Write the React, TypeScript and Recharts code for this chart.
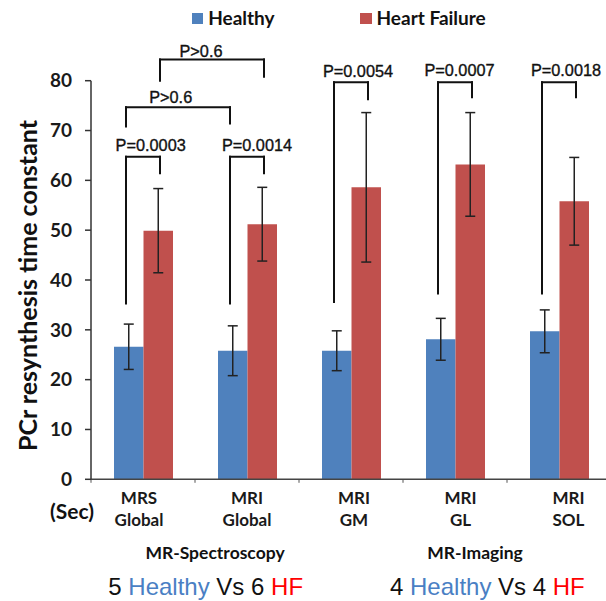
import React from 'react';
import { BarChart, Bar, XAxis, YAxis, ErrorBar, ReferenceLine, Legend } from 'recharts';

// ---------- data ----------
const categoryTop = ['MRS', 'MRI', 'MRI', 'MRI', 'MRI'];
const categoryBottom = ['Global', 'Global', 'GM', 'GL', 'SOL'];
const healthy = [26.6, 25.8, 25.8, 28.1, 29.7];
const healthyErr = [4.55, 5.0, 4.0, 4.2, 4.3];
const heartFailure = [49.9, 51.2, 58.6, 63.2, 55.8];
const heartFailureErr = [8.45, 7.4, 15.0, 10.4, 8.8];
const yTicks = [0, 10, 20, 30, 40, 50, 60, 70, 80];

// significance brackets (series: 'h' healthy, 'f' heart failure)
const bracketText = ['P=0.0003', 'P=0.0014', 'P>0.6', 'P>0.6', 'P=0.0054', 'P=0.0007', 'P=0.0018'];
const bracketFromCat = [0, 1, 0, 0, 2, 3, 4];
const bracketFromSeries = ['h', 'h', 'h', 'f', 'h', 'h', 'h'];
const bracketToCat = [0, 1, 1, 1, 2, 3, 4];
const bracketToSeries = ['f', 'f', 'h', 'f', 'f', 'f', 'f'];
const bracketTop = [64.75, 64.75, 74.66, 84.25, 79.7, 79.7, 79.7];
const bracketFromEnd = [35.3, 35.3, 70.8, 80.0, 35.6, 37.3, 37.3];
const bracketToEnd = [61.4, 61.4, 71.4, 80.8, 76.3, 76.7, 76.7];

// ---------- layout / style ----------
const BLUE = '#4f81bd';
const RED = '#c0504d';
const CHART_W = 620;
const CHART_H = 601;
const PLOT_LEFT = 91;
const PLOT_RIGHT = 611;
const PLOT_TOP = 80.7;
const PLOT_BOTTOM = 479.3;
const Y_AXIS_W = 50;
const X_AXIS_H = 60;
const BAR_SIZE = 29.5;
const BAND = (PLOT_RIGHT - PLOT_LEFT) / categoryTop.length;
const LEG = 17 / BAND;
const labelDx = [7.7, 10, -7.3, -11, 7, 4.5, 7];
const labelLift = [6, 6, 4.3, 2.7, 5, 6.6, 6.6];
const tickShift = [-4, 0, 3, 5.5, 9.5];
const legendLeft = [191.7, 360];

const data = categoryTop.map((c, i) => ({
  name: `${c} ${categoryBottom[i]}`,
  slot: i,
  healthy: healthy[i],
  hErr: healthyErr[i],
  hf: heartFailure[i],
  fErr: heartFailureErr[i],
}));

// slot axis: category centres sit at integer slots
const legX = (cat: number, s: string) => cat + (s === 'h' ? -LEG : LEG);

const BracketLabel = (props: any) => {
  const { viewBox, text, dx, lift } = props;
  if (!viewBox) return null;
  const cx = viewBox.x + (viewBox.width || 0) / 2 + dx;
  return (
    <text
      x={cx}
      y={viewBox.y - lift}
      textAnchor="middle"
      fontFamily="Liberation Sans, Arial, sans-serif"
      fontSize={16.3}
      fill="#111"
      stroke="#111"
      strokeWidth={0.35}
    >
      {text}
    </text>
  );
};

const XTick = (props: any) => {
  const { x, y, index } = props;
  const cx = x + (tickShift[index] || 0);
  return (
    <text
      x={cx}
      y={y}
      textAnchor="middle"
      fontFamily="Lato, sans-serif"
      fontWeight={700}
      fontSize={17}
      fill="#1a1a1a"
    >
      <tspan x={cx} dy={24.7}>{categoryTop[index]}</tspan>
      <tspan x={cx} dy={22}>{categoryBottom[index]}</tspan>
    </text>
  );
};

const LegendContent = (props: any) => {
  const payload = props.payload || [];
  return (
    <div style={{ position: 'relative', width: 606, height: 30 }}>
      {payload.map((p: any, i: number) => (
        <React.Fragment key={i}>
          <span
            style={{
              position: 'absolute',
              left: legendLeft[i],
              top: 12.5,
              width: 11.5,
              height: 11.5,
              background: p.color,
            }}
          />
          <span
            style={{
              position: 'absolute',
              left: legendLeft[i] + 16.5,
              top: 8.3,
              fontFamily: 'Lato, sans-serif',
              fontWeight: 700,
              fontSize: 19,
              lineHeight: '19px',
              color: '#111',
              whiteSpace: 'nowrap',
            }}
          >
            {p.value}
          </span>
        </React.Fragment>
      ))}
    </div>
  );
};

export default function App() {
  const brackets = bracketText.map((t, i) => {
    const x1 = legX(bracketFromCat[i], bracketFromSeries[i]);
    const x2 = legX(bracketToCat[i], bracketToSeries[i]);
    const common = {
      xAxisId: 'slot',
      stroke: '#111',
      strokeWidth: 2,
      ifOverflow: 'visible' as const,
      strokeLinecap: 'square' as const,
    };
    return [
      <ReferenceLine
        key={`l${i}`}
        {...common}
        segment={[{ x: x1, y: bracketFromEnd[i] }, { x: x1, y: bracketTop[i] }]}
      />,
      <ReferenceLine
        key={`t${i}`}
        {...common}
        segment={[{ x: x1, y: bracketTop[i] }, { x: x2, y: bracketTop[i] }]}
        label={<BracketLabel text={t} dx={labelDx[i]} lift={labelLift[i]} />}
      />,
      <ReferenceLine
        key={`r${i}`}
        {...common}
        segment={[{ x: x2, y: bracketToEnd[i] }, { x: x2, y: bracketTop[i] }]}
      />,
    ];
  });

  const boundaryTicks = categoryTop.map((_, i) => (
    <ReferenceLine
      key={`bt${i}`}
      xAxisId="slot"
      stroke="#555"
      strokeWidth={1}
      ifOverflow="visible"
      segment={[{ x: i - 0.5, y: 0 }, { x: i - 0.5, y: -0.7 }]}
    />
  ));

  return (
    <div
      style={{
        position: 'fixed',
        left: 0,
        top: 0,
        width: 606,
        height: 601,
        overflow: 'hidden',
        background: '#fff',
      }}
    >
      <BarChart
        width={CHART_W}
        height={CHART_H}
        data={data}
        barGap={0}
        barSize={BAR_SIZE}
        margin={{
          top: PLOT_TOP,
          right: CHART_W - PLOT_RIGHT,
          bottom: CHART_H - PLOT_BOTTOM - X_AXIS_H,
          left: PLOT_LEFT - Y_AXIS_W,
        }}
      >
        <XAxis
          dataKey="name"
          type="category"
          interval={0}
          height={X_AXIS_H}
          tickLine={false}
          tickSize={0}
          tickMargin={0}
          axisLine={{ stroke: '#444', strokeWidth: 1.5 }}
          tick={<XTick />}
        />
        <XAxis
          xAxisId="slot"
          dataKey="slot"
          type="number"
          domain={['dataMin', 'dataMax']}
          padding={{ left: BAND / 2, right: BAND / 2 }}
          allowDataOverflow
          hide
        />
        <YAxis
          domain={[0, 80]}
          ticks={yTicks}
          interval={0}
          width={Y_AXIS_W}
          tickSize={6}
          tickMargin={13}
          allowDataOverflow
          axisLine={{ stroke: '#333', strokeWidth: 1.5 }}
          tickLine={{ stroke: '#333', strokeWidth: 1.5 }}
          tick={{ fontFamily: 'Lato, sans-serif', fontWeight: 700, fontSize: 19, fill: '#1a1a1a' }}
        />
        <Legend
          layout="horizontal"
          verticalAlign="middle"
          align="center"
          wrapperStyle={{ position: 'absolute', left: 0, top: 0, width: 606, height: 30 }}
          content={<LegendContent />}
        />
        <Bar dataKey="healthy" name="Healthy" fill={BLUE} isAnimationActive={false}>
          <ErrorBar dataKey="hErr" width={5} stroke="#222" strokeWidth={1.5} isAnimationActive={false} />
        </Bar>
        <Bar dataKey="hf" name="Heart Failure" fill={RED} isAnimationActive={false}>
          <ErrorBar dataKey="fErr" width={5} stroke="#222" strokeWidth={1.5} isAnimationActive={false} />
        </Bar>
        {boundaryTicks}
        {brackets}
      </BarChart>
      <svg
        width={606}
        height={601}
        style={{ position: 'absolute', left: 0, top: 0, pointerEvents: 'none' }}
      >
        <text
          transform="translate(26.7,285.5) rotate(-90)"
          textAnchor="middle"
          dominantBaseline="central"
          fontFamily="Lato, sans-serif"
          fontWeight={700}
          fontSize={25}
          fill="#111"
        >
          PCr resynthesis time constant
        </text>
        <text x={72} y={519} textAnchor="middle" fontFamily="Lato, sans-serif" fontWeight={700} fontSize={21} fill="#111">
          (Sec)
        </text>
        <text x={215} y={558.5} textAnchor="middle" fontFamily="Lato, sans-serif" fontWeight={700} fontSize={17.5} fill="#111">
          MR-Spectroscopy
        </text>
        <text x={475} y={558.5} textAnchor="middle" fontFamily="Lato, sans-serif" fontWeight={700} fontSize={17.5} fill="#111">
          MR-Imaging
        </text>
        <text x={108.3} y={595} fontFamily="Liberation Sans, Arial, sans-serif" fontSize={24} fill="#111">
          <tspan>5 </tspan>
          <tspan fill="#4a7fc4">Healthy</tspan>
          <tspan> Vs 6 </tspan>
          <tspan fill="#ff0000">HF</tspan>
        </text>
        <text x={390} y={595} fontFamily="Liberation Sans, Arial, sans-serif" fontSize={24} fill="#111">
          <tspan>4 </tspan>
          <tspan fill="#4a7fc4">Healthy</tspan>
          <tspan> Vs 4 </tspan>
          <tspan fill="#ff0000">HF</tspan>
        </text>
      </svg>
    </div>
  );
}
